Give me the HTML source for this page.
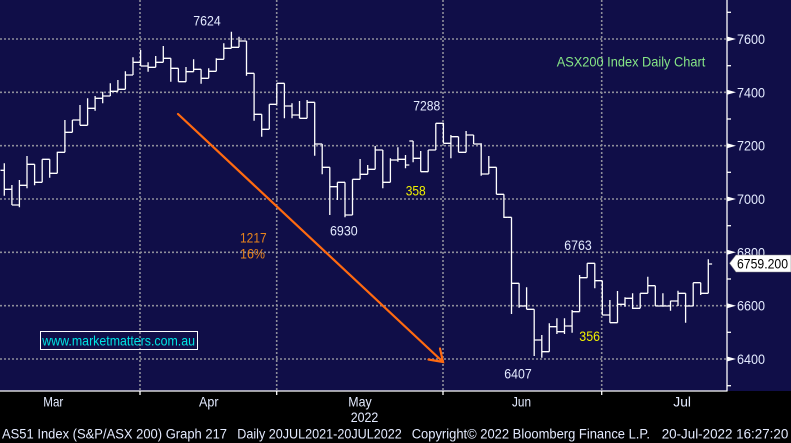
<!DOCTYPE html>
<html><head><meta charset="utf-8"><style>
html,body{margin:0;padding:0;background:#000;}
svg{display:block;}
text{font-family:"Liberation Sans",Arial,sans-serif;}
</style></head><body>
<svg width="791" height="443" viewBox="0 0 791 443" xmlns="http://www.w3.org/2000/svg">
<rect x="0" y="0" width="791" height="443" fill="#000"/>
<rect x="0" y="0" width="791" height="391" fill="#100e48"/>
<g stroke="#8e8e9a" stroke-width="1.6" stroke-dasharray="2 2" fill="none">
<line x1="0" y1="39" x2="727" y2="39"/>
<line x1="0" y1="92.3" x2="727" y2="92.3"/>
<line x1="0" y1="145.7" x2="727" y2="145.7"/>
<line x1="0" y1="199" x2="727" y2="199"/>
<line x1="0" y1="252.3" x2="727" y2="252.3"/>
<line x1="0" y1="305.7" x2="727" y2="305.7"/>
<line x1="0" y1="359" x2="727" y2="359"/>
<line x1="140" y1="0" x2="140" y2="391"/>
<line x1="276.7" y1="0" x2="276.7" y2="391"/>
<line x1="443" y1="0" x2="443" y2="391"/>
<line x1="601.7" y1="0" x2="601.7" y2="391"/>
</g>
<path fill="none" stroke="#fff" stroke-width="1.3" d="
M4.3 163.3V195.7M0.5 170.3H4.3M4.3 189.3H8.1
M11.9 185V205M8.1 189.3H11.9M11.9 205H15.7
M19.4 180V207.3M15.6 205H19.4M19.4 185.3H23.2
M27 156V188.3M23.2 185.3H27M27 164.3H30.8
M34.6 164.3V185.3M30.8 164.3H34.6M34.6 182.3H38.4
M42.2 159.3V182.3M38.4 182.3H42.2M42.2 159.3H46
M49.7 159.3V177.7M45.9 159.3H49.7M49.7 173.3H53.5
M57.3 151.7V173.3M53.5 173.3H57.3M57.3 152.3H61.1
M64.9 120V152.3M61.1 152.3H64.9M64.9 132.3H68.7
M72.4 120V132.3M68.6 132.3H72.4M72.4 120H76.2
M80 105V125.3M76.2 120H80M80 125.3H83.8
M87.6 98.3V125.3M83.8 125.3H87.6M87.6 108.3H91.4
M95.1 96V110.7M91.3 108.3H95.1M95.1 98.3H98.9
M102.7 91.7V103.3M98.9 98.3H102.7M102.7 96H106.5
M110.3 83.3V96M106.5 96H110.3M110.3 91.3H114.1
M117.9 80V91.3M114.1 91.3H117.9M117.9 89.3H121.7
M125.4 71.3V89.3M121.6 89.3H125.4M125.4 75H129.2
M133 57.3V75M129.2 75H133M133 62.3H136.8
M140.6 50V66M136.8 62.3H140.6M140.6 66H144.4
M148.1 62.3V71.7M144.3 66H148.1M148.1 67.3H151.9
M155.7 56V67.3M151.9 67.3H155.7M155.7 62.3H159.5
M163.3 46V62.3M159.5 62.3H163.3M163.3 58.3H167.1
M170.8 58.3V81.7M167 58.3H170.8M170.8 68.3H174.6
M178.4 68.3V81.7M174.6 68.3H178.4M178.4 81.7H182.2
M186 67V81.7M182.2 81.7H186M186 71.7H189.8
M193.6 59.3V71.7M189.8 71.7H193.6M193.6 69.3H197.4
M201.1 69.3V83.7M197.3 69.3H201.1M201.1 78.3H204.9
M208.7 68.3V78.3M204.9 78.3H208.7M208.7 71.3H212.5
M216.3 58.3V71.3M212.5 71.3H216.3M216.3 59.3H220.1
M223.8 43.3V59.3M220 59.3H223.8M223.8 48.3H227.6
M231.4 31.7V48.3M227.6 48.3H231.4M231.4 47.3H235.2
M239 36.7V47.3M235.2 47.3H239M239 41H242.8
M246.5 41V75.7M242.7 41H246.5M246.5 73.3H250.3
M254.1 73.3V120.7M250.3 73.3H254.1M254.1 114.3H257.9
M261.7 114.3V136.7M257.9 114.3H261.7M261.7 129.3H265.5
M269.3 104.3V129.3M265.5 129.3H269.3M269.3 104.3H273.1
M276.8 83.3V104.3M273 104.3H276.8M276.8 83.3H280.6
M284.4 83.3V118.3M280.6 83.3H284.4M284.4 106H288.2
M292 103.3V118.3M288.2 106H292M292 115H295.8
M299.5 101V118.3M295.7 115H299.5M299.5 118.3H303.3
M307.1 100V118.3M303.3 118.3H307.1M307.1 102.3H310.9
M314.7 102.3V155.7M310.9 102.3H314.7M314.7 144H318.5
M322.2 144V174.3M318.4 144H322.2M322.2 167.3H326
M329.8 167.3V215M326 167.3H329.8M329.8 186.7H333.6
M337.4 182.3V200M333.6 186.7H337.4M337.4 182.3H341.2
M345 182.3V217.3M341.2 182.3H345M345 215H348.8
M352.5 179.3V215M348.7 215H352.5M352.5 179.3H356.3
M360.1 159V179.3M356.3 179.3H360.1M360.1 174.3H363.9
M367.7 165V174.3M363.9 174.3H367.7M367.7 169.3H371.5
M375.2 146V169.3M371.4 169.3H375.2M375.2 150H379
M382.8 150V188.3M379 150H382.8M382.8 182.3H386.6
M390.4 158.3V182.3M386.6 182.3H390.4M390.4 160H394.2
M397.9 147.3V161.7M394.1 160H397.9M397.9 159.3H401.7
M405.5 155V168.3M401.7 159.3H405.5M405.5 165H409.3
M413.1 141V162.3M409.3 141H413.1M413.1 158.3H416.9
M420.7 151V171.7M416.9 158.3H420.7M420.7 171.7H424.5
M428.2 150V171.7M424.4 171.7H428.2M428.2 150H432
M435.8 123.3V150M432 150H435.8M435.8 123.3H439.6
M443.4 122.7V143.3M439.6 123.3H443.4M443.4 143.3H447.2
M450.9 135V158.3M447.1 143.3H450.9M450.9 136.7H454.7
M458.5 136.7V152.3M454.7 136.7H458.5M458.5 152.3H462.3
M466.1 131V152.3M462.3 152.3H466.1M466.1 135H469.9
M473.6 135V144M469.8 135H473.6M473.6 144H477.4
M481.2 143.3V175.7M477.4 144H481.2M481.2 174H485
M488.8 156V174M485 174H488.8M488.8 167.3H492.6
M496.4 167.3V194.3M492.6 167.3H496.4M496.4 194.3H500.2
M503.9 194.3V218M500.1 194.3H503.9M503.9 217.3H507.7
M511.5 217.3V314M507.7 217.3H511.5M511.5 283.3H515.3
M519.1 283.3V307.7M515.3 283.3H519.1M519.1 306H522.9
M526.6 287.3V309.3M522.8 306H526.6M526.6 309.3H530.4
M534.2 309.3V356M530.4 309.3H534.2M534.2 340H538
M541.8 335V357.7M538 340H541.8M541.8 351.7H545.6
M549.3 323.3V351.7M545.5 351.7H549.3M549.3 326.7H553.1
M556.9 318.3V334M553.1 326.7H556.9M556.9 331.7H560.7
M564.5 318.3V334M560.7 331.7H564.5M564.5 326H568.3
M572.1 310V332.7M568.3 326H572.1M572.1 311.7H575.9
M579.6 275V311.7M575.8 311.7H579.6M579.6 277.7H583.4
M587.2 263.3V277.7M583.4 277.7H587.2M587.2 263.3H591
M594.8 263.3V288.3M591 263.3H594.8M594.8 280.7H598.6
M602.3 280.7V315M598.5 280.7H602.3M602.3 315H606.1
M609.9 300V322.7M606.1 315H609.9M609.9 322.7H613.7
M617.5 291V322.7M613.7 322.7H617.5M617.5 304.3H621.3
M625 297.3V306.7M621.2 304.3H625M625 298.3H628.8
M632.6 293.3V309M628.8 298.3H632.6M632.6 308.3H636.4
M640.2 293.3V308.3M636.4 308.3H640.2M640.2 293.3H644
M647.8 276.7V293.3M644 293.3H647.8M647.8 285.7H651.6
M655.3 285.7V306M651.5 285.7H655.3M655.3 306H659.1
M662.9 293.3V306.7M659.1 306H662.9M662.9 306H666.7
M670.5 300.7V310.7M666.7 306H670.5M670.5 301H674.3
M678 290.7V306M674.2 301H678M678 293.3H681.8
M685.6 293.3V322.7M681.8 293.3H685.6M685.6 306H689.4
M693.2 282.7V306M689.4 306H693.2M693.2 282.7H697
M700.7 282.7V295M696.9 282.7H700.7M700.7 293.3H704.5
M708.3 259.3V293.3M704.5 293.3H708.3M708.3 264H712.1"/>
<g stroke="#ff6a10" stroke-width="2.2" fill="none" stroke-linecap="round">
<line x1="178" y1="114" x2="443" y2="362"/>
<polyline points="428.5,359.5 443,362 440,348.5"/>
</g>
<g stroke="#fff" stroke-width="1.3" fill="none">
<line x1="727" y1="0" x2="727" y2="391.5"/>
<line x1="0" y1="391" x2="727" y2="391"/>
<line x1="140" y1="391" x2="140" y2="395"/>
<line x1="276.7" y1="391" x2="276.7" y2="395"/>
<line x1="443" y1="391" x2="443" y2="395"/>
<line x1="601.7" y1="391" x2="601.7" y2="395"/>
<line x1="727" y1="12.3" x2="731" y2="12.3"/>
<line x1="727" y1="65.7" x2="731" y2="65.7"/>
<line x1="727" y1="119" x2="731" y2="119"/>
<line x1="727" y1="172.3" x2="731" y2="172.3"/>
<line x1="727" y1="225.7" x2="731" y2="225.7"/>
<line x1="727" y1="279" x2="731" y2="279"/>
<line x1="727" y1="332.3" x2="731" y2="332.3"/>
<line x1="727" y1="385.7" x2="731" y2="385.7"/>
</g>
<g fill="#fff">
<polygon points="727,36.5 736,39 727,41.5"/>
<polygon points="727,89.8 736,92.3 727,94.8"/>
<polygon points="727,143.2 736,145.7 727,148.2"/>
<polygon points="727,196.5 736,199 727,201.5"/>
<polygon points="727,249.8 736,252.3 727,254.8"/>
<polygon points="727,303.2 736,305.7 727,308.2"/>
<polygon points="727,356.5 736,359 727,361.5"/>
</g>
<g fill="#e4ebff" font-size="14">
<text x="737" y="44" textLength="28" lengthAdjust="spacingAndGlyphs">7600</text>
<text x="737" y="97.3" textLength="28" lengthAdjust="spacingAndGlyphs">7400</text>
<text x="737" y="150.7" textLength="28" lengthAdjust="spacingAndGlyphs">7200</text>
<text x="737" y="204" textLength="28" lengthAdjust="spacingAndGlyphs">7000</text>
<text x="737" y="257.3" textLength="28" lengthAdjust="spacingAndGlyphs">6800</text>
<text x="737" y="310.7" textLength="28" lengthAdjust="spacingAndGlyphs">6600</text>
<text x="737" y="364" textLength="28" lengthAdjust="spacingAndGlyphs">6400</text>
</g>
<polygon points="729.5,263.3 736,255 791,255 791,272 736,272" fill="#fff" stroke="#888" stroke-width="0.6"/>
<text x="737" y="268.6" font-size="14" fill="#000" textLength="51" lengthAdjust="spacingAndGlyphs">6759.200</text>
<g font-size="14" fill="#e4ebff">
<text x="193.3" y="25.7" textLength="27.4" lengthAdjust="spacingAndGlyphs">7624</text>
<text x="413.3" y="110.7" textLength="27" lengthAdjust="spacingAndGlyphs">7288</text>
<text x="330" y="235.7" textLength="27.7" lengthAdjust="spacingAndGlyphs">6930</text>
<text x="504.3" y="378.3" textLength="27.4" lengthAdjust="spacingAndGlyphs">6407</text>
<text x="564.3" y="250" textLength="27.4" lengthAdjust="spacingAndGlyphs">6763</text>
</g>
<g font-size="14" fill="#f0f000">
<text x="405.7" y="195.7" textLength="20" lengthAdjust="spacingAndGlyphs">358</text>
<text x="579.3" y="341" textLength="20.7" lengthAdjust="spacingAndGlyphs">356</text>
</g>
<g font-size="14" fill="#e8841c">
<text x="240" y="242.3" textLength="26.7" lengthAdjust="spacingAndGlyphs">1217</text>
<text x="240" y="258.3" textLength="25" lengthAdjust="spacingAndGlyphs">16%</text>
</g>
<text x="556.7" y="66.5" font-size="14" fill="#86e686" textLength="148.6" lengthAdjust="spacingAndGlyphs">ASX200 Index Daily Chart</text>
<rect x="40.5" y="331.5" width="157" height="18" fill="none" stroke="#fff" stroke-width="1"/>
<text x="42.3" y="345.3" font-size="14" fill="#00e4e4" textLength="152.7" lengthAdjust="spacingAndGlyphs">www.marketmatters.com.au</text>
<g font-size="14" fill="#e4ebff">
<text x="43.3" y="406.7" textLength="20" lengthAdjust="spacingAndGlyphs">Mar</text>
<text x="199" y="406.7" textLength="19.5" lengthAdjust="spacingAndGlyphs">Apr</text>
<text x="348.3" y="406.7" textLength="23.4" lengthAdjust="spacingAndGlyphs">May</text>
<text x="350.7" y="422" textLength="27.6" lengthAdjust="spacingAndGlyphs">2022</text>
<text x="512" y="406.7" textLength="19" lengthAdjust="spacingAndGlyphs">Jun</text>
<text x="673.3" y="406.7" textLength="17.7" lengthAdjust="spacingAndGlyphs">Jul</text>
</g>
<g font-size="13.5" fill="#e4ebff" style="font-family:'DejaVu Sans','Liberation Sans',sans-serif">
<text x="2" y="438.5" textLength="225" lengthAdjust="spacingAndGlyphs">AS51 Index (S&amp;P/ASX 200) Graph 217</text>
<text x="237.3" y="438.5" textLength="164.4" lengthAdjust="spacingAndGlyphs">Daily 20JUL2021-20JUL2022</text>
<text x="411.7" y="438.5" textLength="238.3" lengthAdjust="spacingAndGlyphs">Copyright© 2022 Bloomberg Finance L.P.</text>
<text x="661.7" y="438.5" textLength="126.6" lengthAdjust="spacingAndGlyphs">20-Jul-2022 16:27:20</text>
</g>
</svg>
</body></html>
